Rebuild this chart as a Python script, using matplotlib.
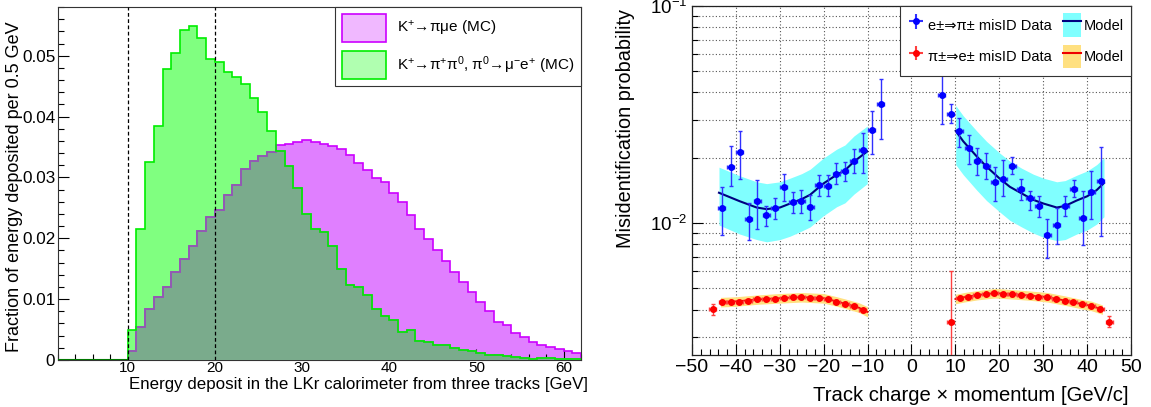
import numpy as np
import matplotlib
matplotlib.use("Agg")
import matplotlib.pyplot as plt
from matplotlib.patches import Patch
from matplotlib.lines import Line2D
from matplotlib.ticker import MultipleLocator, LogLocator, NullFormatter

plt.rcParams['font.family'] = ['Liberation Sans', 'DejaVu Sans']
plt.rcParams['mathtext.fontset'] = 'custom'
plt.rcParams['mathtext.rm'] = 'Liberation Sans'
plt.rcParams['mathtext.it'] = 'Liberation Sans'
plt.rcParams['mathtext.default'] = 'regular'

# ---------------- Left panel data (1 GeV bins from 10 to 62) ----------------
bin_edges = np.arange(10, 63, 1)
pimue = [0.0014, 0.0054, 0.0083, 0.0103, 0.0120, 0.0144, 0.0166, 0.0188, 0.0212, 0.0235,
         0.0247, 0.0271, 0.0288, 0.0313, 0.0327, 0.0336, 0.0341, 0.0353, 0.0355, 0.0359,
         0.0362, 0.0359, 0.0355, 0.0352, 0.0346, 0.0337, 0.0324, 0.0312, 0.0299, 0.0292,
         0.0275, 0.0260, 0.0238, 0.0215, 0.0198, 0.0181, 0.0163, 0.0144, 0.0128, 0.0112,
         0.0095, 0.0080, 0.0063, 0.0058, 0.0045, 0.0037, 0.0030, 0.0025, 0.0021, 0.0018,
         0.0014, 0.0011]
pipi0 = [0.0050, 0.0216, 0.0326, 0.0385, 0.0478, 0.0505, 0.0542, 0.0548, 0.0529, 0.0495,
         0.0489, 0.0473, 0.0465, 0.0454, 0.0430, 0.0408, 0.0376, 0.0343, 0.0319, 0.0282,
         0.0240, 0.0216, 0.0210, 0.0188, 0.0149, 0.0124, 0.0120, 0.0107, 0.0083, 0.0072,
         0.0065, 0.0046, 0.0049, 0.0031, 0.0029, 0.0024, 0.0025, 0.0020, 0.0016, 0.0015,
         0.0012, 0.0009, 0.0008, 0.0007, 0.0005, 0.0004, 0.0002, 0.0003, 0.0003, 0.0002,
         0.0002, 0.0002]
cut_lines = [10, 20]

# ---------------- Right panel data ----------------
# e -> pi misID data (blue)
blue_x = [-43.2, -41.2, -39.1, -37.1, -35.1, -33.1, -31.1, -29.1, -27.1, -25.1, -23.1,
          -21.1, -19.1, -17.1, -15.2, -13.1, -11.1, -9.1, -7.0,
          6.95, 8.9, 10.9, 13.0, 15.0, 17.0, 19.0, 20.9, 23.0, 24.9, 27.0, 29.0, 30.9,
          33.1, 35.0, 37.0, 39.0, 41.0, 43.1]
blue_y = [0.0118, 0.0181, 0.0213, 0.0104, 0.0126, 0.0109, 0.0118, 0.0147, 0.0125, 0.0126,
          0.0119, 0.0150, 0.0148, 0.0168, 0.0174, 0.0194, 0.0216, 0.0269, 0.0354,
          0.0390, 0.0319, 0.0265, 0.0222, 0.0193, 0.0184, 0.0155, 0.0160, 0.0184, 0.0144,
          0.0130, 0.0120, 0.00877, 0.00985, 0.0120, 0.0143, 0.0106, 0.0139, 0.0156]
blue_hi = [0.0147, 0.0227, 0.0266, 0.0124, 0.0158, 0.0120, 0.0130, 0.0168, 0.0139, 0.0142,
           0.0135, 0.0167, 0.0167, 0.0189, 0.0192, 0.0219, 0.0260, 0.0330, 0.0462,
           0.0500, 0.0353, 0.0306, 0.0255, 0.0222, 0.0211, 0.0181, 0.0196, 0.0201, 0.0160,
           0.0141, 0.0134, 0.0105, 0.0117, 0.0134, 0.0158, 0.0141, 0.0174, 0.0224]
blue_lo = [0.00884, 0.0148, 0.0160, 0.00835, 0.00938, 0.00975, 0.0105, 0.0126, 0.0111,
           0.0111, 0.0103, 0.0133, 0.0133, 0.0151, 0.0157, 0.0170, 0.0171, 0.0208, 0.0244,
           0.0287, 0.0289, 0.0224, 0.0187, 0.0167, 0.0159, 0.0126, 0.0133, 0.0169, 0.0128,
           0.0115, 0.0107, 0.00690, 0.00803, 0.0108, 0.0132, 0.00794, 0.0104, 0.00874]

# pi -> e misID data (red)
red_x = [-45.3, -43.1, -41.2, -39.2, -37.2, -35.2, -33.2, -31.1, -29.1, -27.1, -25.1,
         -23.1, -21.1, -19.1, -17.1, -15.1, -13.1, -11.1,
         8.9, 11.0, 12.9, 14.9, 16.9, 18.9, 20.9, 22.9, 24.9, 26.9, 28.9, 30.9, 32.9,
         35.0, 36.9, 38.9, 40.9, 43.0, 45.1]
red_y = [0.00401, 0.00433, 0.00434, 0.00434, 0.00440, 0.00445, 0.00447, 0.00449, 0.00453,
         0.00456, 0.00456, 0.00454, 0.00453, 0.00447, 0.00434, 0.00425, 0.00416, 0.00396,
         0.00352, 0.00453, 0.00459, 0.00466, 0.00472, 0.00476, 0.00472, 0.00470, 0.00467,
         0.00464, 0.00457, 0.00456, 0.00448, 0.00440, 0.00433, 0.00423, 0.00416, 0.00403,
         0.00352]
red_hi = [0.00423, 0.00440, 0.00441, 0.00441, 0.00447, 0.00452, 0.00454, 0.00456, 0.00460,
          0.00463, 0.00463, 0.00461, 0.00460, 0.00454, 0.00441, 0.00432, 0.00423, 0.00403,
          0.00605, 0.00460, 0.00466, 0.00473, 0.00479, 0.00483, 0.00479, 0.00477, 0.00474,
          0.00471, 0.00464, 0.00463, 0.00455, 0.00447, 0.00440, 0.00430, 0.00423, 0.00410,
          0.00374]
red_lo = [0.00378, 0.00426, 0.00427, 0.00427, 0.00433, 0.00438, 0.00440, 0.00442, 0.00446,
          0.00449, 0.00449, 0.00447, 0.00446, 0.00440, 0.00427, 0.00418, 0.00409, 0.00389,
          0.00100, 0.00446, 0.00452, 0.00459, 0.00465, 0.00469, 0.00465, 0.00463, 0.00460,
          0.00457, 0.00450, 0.00449, 0.00441, 0.00433, 0.00426, 0.00416, 0.00409, 0.00396,
          0.00334]

# Model curves and bands
blueL_x = [-43.85, -39.07, -35.27, -32.99, -29.95, -27.68, -25.0, -23.1, -20.1, -17.04,
           -15.15, -13.1, -10.07]
blueL_y = [0.0138, 0.0126, 0.0118, 0.0116, 0.0118, 0.0123, 0.0129, 0.0135, 0.0152, 0.0167,
           0.0175, 0.0192, 0.0214]
blueL_hi = [0.0181, 0.0165, 0.0155, 0.0152, 0.0155, 0.0161, 0.0169, 0.0177, 0.0199, 0.0219,
            0.0229, 0.0252, 0.0280]
blueL_lo = [0.0098, 0.0089, 0.0084, 0.0082, 0.0084, 0.0087, 0.0092, 0.0096, 0.0108, 0.0119,
            0.0124, 0.0136, 0.0152]

blueR_x = [10.07, 11.8, 14.85, 17.1, 20.0, 22.4, 25.1, 27.75, 30.1, 33.1, 35.0, 37.6, 40.05,
           42.2, 43.85]
blueR_y = [0.0266, 0.0238, 0.0203, 0.0182, 0.0161, 0.0147, 0.0137, 0.0128, 0.0123, 0.0118,
           0.0120, 0.0127, 0.0133, 0.0142, 0.0153]
blueR_hi = [0.0348, 0.0312, 0.0266, 0.0238, 0.0211, 0.0193, 0.0179, 0.0168, 0.0161, 0.0155,
            0.0157, 0.0166, 0.0174, 0.0186, 0.0200]
blueR_lo = [0.0186, 0.0167, 0.0142, 0.0127, 0.0113, 0.0103, 0.0096, 0.0090, 0.0086, 0.0083,
            0.0084, 0.0089, 0.0093, 0.0099, 0.0107]

redL_x = [-43.5, -40.0, -35.0, -30.0, -25.0, -20.0, -17.0, -15.0, -12.0, -10.0]
redL_y = [0.00433, 0.00436, 0.00445, 0.00451, 0.00456, 0.00451, 0.00436, 0.00425, 0.00408,
          0.00390]
redL_hi = [0.00455, 0.00458, 0.00467, 0.00474, 0.00479, 0.00474, 0.00458, 0.00447, 0.00430,
           0.00412]
redL_lo = [0.00411, 0.00414, 0.00423, 0.00428, 0.00433, 0.00428, 0.00414, 0.00404, 0.00388,
           0.00370]

redR_x = [10.0, 12.0, 15.0, 19.0, 23.0, 27.0, 31.0, 35.0, 39.0, 41.0, 43.5]
redR_y = [0.00447, 0.00456, 0.00466, 0.00476, 0.00470, 0.00464, 0.00456, 0.00440, 0.00423,
          0.00416, 0.00400]
redR_hi = [0.00470, 0.00479, 0.00489, 0.00500, 0.00494, 0.00487, 0.00479, 0.00462, 0.00444,
           0.00437, 0.00420]
redR_lo = [0.00425, 0.00433, 0.00443, 0.00452, 0.00447, 0.00441, 0.00433, 0.00418, 0.00402,
           0.00395, 0.00380]

# ---------------- Figure ----------------
fig = plt.figure(figsize=(11.51, 4.07), dpi=100)

# ---- Left ----
ax = fig.add_axes([0.0504, 0.1155, 0.4544, 0.8673])
m = np.array(pimue)
g = np.array(pipi0)
ax.stairs(m, bin_edges, fill=True, color='#e07fff', zorder=1)
ax.stairs(g, bin_edges, fill=True, color='#80ff80', zorder=2)
ax.stairs(np.minimum(m, g), bin_edges, fill=True, color='#7aab8c', zorder=3)
ax.stairs(m, bin_edges, color='#cc00ff', lw=1.2, zorder=4)
ax.stairs(np.minimum(m, g), bin_edges, color='#8a66a8', lw=1.2, zorder=4.5)
ax.stairs(g, bin_edges, color='#00ee00', lw=1.2, zorder=5)
ax.plot([2, 10], [0, 0], color='#007700', lw=1.5, zorder=5)
for c in cut_lines:
    ax.axvline(c, color='black', ls=(0, (3, 2)), lw=0.9, zorder=6)
ax.set_xlim(2, 62)
ax.set_ylim(0, 0.058)
ax.xaxis.set_major_locator(MultipleLocator(10))
ax.xaxis.set_minor_locator(MultipleLocator(2))
ax.yaxis.set_major_locator(MultipleLocator(0.01))
ax.yaxis.set_minor_locator(MultipleLocator(0.002))
ax.set_yticks([0, 0.01, 0.02, 0.03, 0.04, 0.05])
ax.set_yticklabels(['0', '0.01', '0.02', '0.03', '0.04', '0.05'])
ax.tick_params(which='both', direction='in', top=False, right=False)
ax.tick_params(axis='y', labelsize=12.3, pad=2)
ax.tick_params(axis='x', labelsize=11, pad=1)
ax.tick_params(which='major', length=8, width=0.8)
ax.tick_params(which='minor', length=4, width=0.8)
ax.set_xlabel('Energy deposit in the LKr calorimeter from three tracks [GeV]',
              fontsize=12.2, ha='right')
ax.xaxis.set_label_coords(1.013, -0.047, transform=ax.transAxes)
ax.xaxis.label.set_va('top')
ax.set_ylabel('Fraction of energy deposited per 0.5 GeV', fontsize=13.0, va='center')
ax.yaxis.set_label_coords(-0.084, 0.49)
for s in ax.spines.values():
    s.set_linewidth(0.8)
    s.set_color('#333333')
hL = [Patch(facecolor='#f0b8ff', edgecolor='#cc00ff', lw=1.2),
      Patch(facecolor='#b0ffb0', edgecolor='#00ee00', lw=1.2)]
leg = ax.legend(hL, ['K$^{+}$→πμe (MC)', 'K$^{+}$→π$^{+}$π$^{0}$, π$^{0}$→μ$^{−}$e$^{+}$ (MC)'],
                loc='upper right', fontsize=11, frameon=True, fancybox=False,
                edgecolor='#333333', framealpha=1, handlelength=2.9, handleheight=2.5,
                borderaxespad=0, borderpad=0.45, labelspacing=0.55, handletextpad=0.7)
leg.get_frame().set_linewidth(0.8)
leg.set_zorder(10)

# ---- Right ----
ax2 = fig.add_axes([0.6012, 0.1278, 0.3814, 0.8575])
ax2.set_yscale('log')
ax2.set_xlim(-50, 50)
ax2.set_ylim(0.00247, 0.1)

ax2.fill_between(blueL_x, blueL_lo, blueL_hi, color='#80ffff', lw=0, zorder=1)
ax2.fill_between(blueR_x, blueR_lo, blueR_hi, color='#80ffff', lw=0, zorder=1)
ax2.fill_between(redL_x, redL_lo, redL_hi, color='#ffe080', lw=0, zorder=1)
ax2.fill_between(redR_x, redR_lo, redR_hi, color='#ffe080', lw=0, zorder=1)
ax2.plot(blueL_x, blueL_y, color='#000080', lw=1.5, zorder=3)
ax2.plot(blueR_x, blueR_y, color='#000080', lw=1.5, zorder=3)
ax2.plot(redL_x, redL_y, color='#ee0000', lw=1.3, zorder=3)
ax2.plot(redR_x, redR_y, color='#ee0000', lw=1.3, zorder=3)

by = np.array(blue_y)
berr = [by - np.array(blue_lo), np.array(blue_hi) - by]
ax2.errorbar(blue_x, blue_y, yerr=berr, xerr=0.8, fmt='o', color='#0000ff', ms=4,
             elinewidth=1, ecolor='#3030ff', capsize=1.5, zorder=4)
ry = np.array(red_y)
rerr = [ry - np.array(red_lo), np.array(red_hi) - ry]
ax2.errorbar(red_x, red_y, yerr=rerr, xerr=0.8, fmt='o', color='#ff0000', ms=4,
             elinewidth=1, ecolor='#ff4040', capsize=1.5, zorder=4)

ax2.xaxis.set_major_locator(MultipleLocator(10))
ax2.xaxis.set_minor_locator(MultipleLocator(2))
ax2.yaxis.set_major_locator(LogLocator(base=10))
ax2.yaxis.set_minor_locator(LogLocator(base=10, subs=np.arange(2, 10)))
ax2.yaxis.set_minor_formatter(NullFormatter())
ax2.grid(True, which='major', axis='x', color='#555555', ls=(0, (1, 2)), lw=0.8)
ax2.grid(True, which='both', axis='y', color='#555555', ls=(0, (1, 2)), lw=0.8)
ax2.set_axisbelow(True)
ax2.tick_params(which='both', direction='in', top=False, right=False, labelsize=14)
ax2.tick_params(axis='y', labelsize=13.5)
ax2.tick_params(axis='x', pad=3)
ax2.tick_params(which='major', length=8, width=0.8)
ax2.tick_params(which='minor', length=4, width=0.8)
ax2.set_xlabel('Track charge × momentum [GeV/c]', fontsize=14.6, ha='right')
ax2.xaxis.set_label_coords(0.995, -0.088)
ax2.xaxis.label.set_va('top')
ax2.set_ylabel('Misidentification probability', fontsize=14.3, ha='right', va='center')
ax2.yaxis.set_label_coords(-0.152, 0.99)
for s in ax2.spines.values():
    s.set_linewidth(0.9)
    s.set_color('#222222')

hb = ax2.errorbar([], [], yerr=[], xerr=[], fmt='o', color='#0000ff', ms=4,
                  ecolor='#3030ff', capsize=2)
hr = ax2.errorbar([], [], yerr=[], xerr=[], fmt='o', color='#ff0000', ms=4,
                  ecolor='#ff4040', capsize=2)
mb = (Patch(facecolor='#80ffff', lw=0), Line2D([], [], color='#000080', lw=1.5))
mr = (Patch(facecolor='#ffe080', lw=0), Line2D([], [], color='#ee0000', lw=1.5))
leg2 = ax2.legend([hb, hr, mb, mr],
                  ['e±⇒π± misID Data', 'π±⇒e± misID Data', 'Model', 'Model'],
                  ncol=2, loc='upper right', fontsize=10.5, frameon=True, fancybox=False,
                  edgecolor='#333333', framealpha=1, borderaxespad=0,
                  handlelength=1.2, handleheight=2.1, columnspacing=0.8,
                  handletextpad=0.2, labelspacing=0.55, borderpad=0.5)
leg2.get_frame().set_linewidth(0.8)
leg2.set_zorder(10)

fig.savefig('out.png', dpi=100)
